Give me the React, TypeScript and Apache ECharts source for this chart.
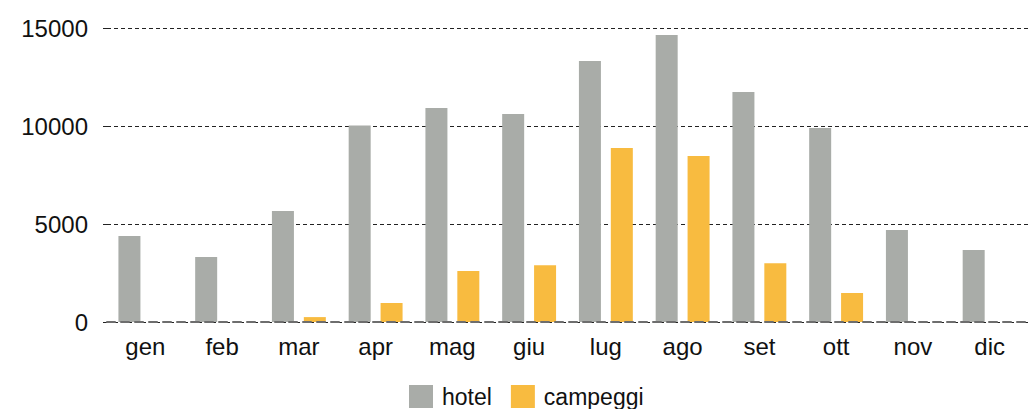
import React, { useEffect, useRef } from "react";
import * as echarts from "echarts";

const months = ["gen", "feb", "mar", "apr", "mag", "giu", "lug", "ago", "set", "ott", "nov", "dic"];
const hotel = [4390, 3310, 5660, 10020, 10920, 10610, 13310, 14640, 11730, 9900, 4700, 3670];
const campeggi = [0, 0, 250, 970, 2600, 2900, 8880, 8470, 3000, 1480, 0, 0];
const yTicks = [0, 5000, 10000, 15000];

export default function App() {
  const ref = useRef<HTMLDivElement>(null);
  useEffect(() => {
    if (!ref.current) return;
    const chart = echarts.init(ref.current, undefined, { renderer: "svg" });
    chart.setOption({
      animation: false,
      textStyle: { fontFamily: "Liberation Sans, Arial, sans-serif" },
      grid: { left: 107, right: 4, top: 28, bottom: 87, containLabel: false },
      legend: {
        bottom: 1,
        left: 409,
        padding: 0,
        itemWidth: 24,
        itemHeight: 23,
        itemGap: 19,
        icon: "rect",
        textStyle: {
          fontSize: 23,
          color: "#111",
          padding: [0, 0, 0, 4],
          fontFamily: "Liberation Sans, Arial, sans-serif",
        },
        data: ["hotel", "campeggi"],
      },
      xAxis: {
        type: "category",
        data: months,
        z: 5,
        axisTick: { show: false },
        axisLine: { show: true, lineStyle: { color: "#6e6e6e", width: 2, type: [8, 6] } },
        axisLabel: { fontSize: 24, color: "#111", margin: 12 },
      },
      yAxis: {
        type: "value",
        min: 0,
        max: yTicks[yTicks.length - 1],
        interval: 5000,
        axisLine: { show: false },
        axisTick: { show: true, length: 7, lineStyle: { color: "#222", type: [4, 3] } },
        splitLine: { show: true, lineStyle: { color: "#222", type: [4, 3] } },
        axisLabel: { fontSize: 24, color: "#111", margin: 19, formatter: (v: number) => String(v) },
      },
      series: [
        {
          name: "hotel",
          type: "bar",
          data: hotel,
          barWidth: 22,
          barGap: "45%",
          itemStyle: { color: "#a9aca8" },
        },
        {
          name: "campeggi",
          type: "bar",
          data: campeggi,
          barWidth: 22,
          itemStyle: { color: "#f8bb40" },
        },
      ],
    });
    return () => chart.dispose();
  }, []);
  return <div ref={ref} style={{ width: 1032, height: 409, position: "absolute", left: 0, top: 0 }} />;
}
